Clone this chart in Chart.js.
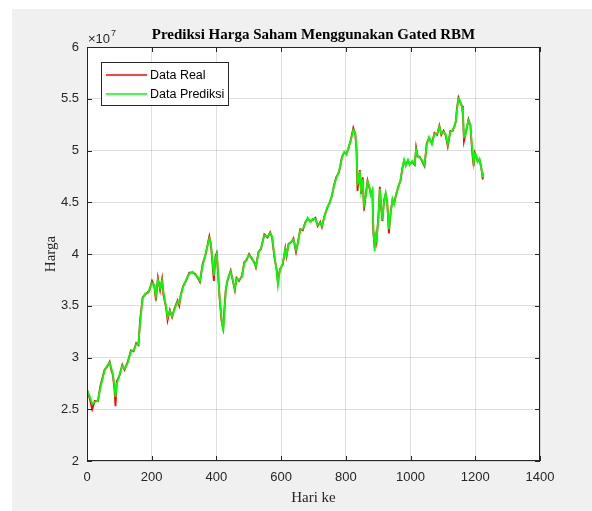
<!DOCTYPE html>
<html>
<head>
<meta charset="utf-8">
<script src="https://cdn.jsdelivr.net/npm/chart.js@4"></script>
<style>
  html, body { margin: 0; padding: 0; background: #fff; }
  #wrap { width: 592px; height: 511px; }
</style>
</head>
<body>
<div id="wrap"><canvas id="myChart" width="592" height="511"></canvas></div>
<script>
// hari ke (x) dan harga dalam satuan 10^7
var hari = [0,8,16,24,34,41,54,62,70,75,
  80,85,88,92,100,109,116,126,136,144,
  152,159,164,172,180,188,193,201,208,213,
  219,226,232,236,244,249,256,263,270,280,
  285,290,297,306,316,326,334,342,349,357,
  367,378,383,388,392,397,401,405,410,416,
  421,425,429,434,444,450,457,462,470,479,
  486,493,501,510,517,522,530,538,548,558,
  566,572,579,586,590,596,605,613,617,623,
  631,638,646,651,659,667,675,682,690,698,
  706,713,721,726,734,742,750,757,763,770,
  779,788,795,802,808,815,823,829,833,836,
  839,843,847,852,856,862,867,872,877,882,
  885,889,892,895,901,905,909,913,918,923,
  928,933,939,944,949,956,962,969,974,980,
  985,992,997,1005,1013,1017,1022,1028,1035,1043,
  1050,1057,1066,1074,1082,1089,1095,1102,1109,1115,
  1123,1130,1136,1140,1143,1148,1154,1159,1162,1165,
  1169,1174,1179,1185,1188,1192,1195,1198,1202,1207,
  1213,1217,1221,1223];

var dataReal = [2.69,2.61,2.50,2.58,2.58,2.72,2.88,2.91,2.96,2.88,
  2.83,2.69,2.53,2.77,2.82,2.93,2.88,2.96,3.07,3.06,
  3.14,3.12,3.36,3.58,3.61,3.63,3.65,3.74,3.69,3.55,
  3.77,3.65,3.76,3.61,3.49,3.36,3.46,3.39,3.47,3.55,
  3.50,3.61,3.69,3.74,3.82,3.82,3.81,3.77,3.73,3.90,
  4.00,4.17,4.09,3.90,3.74,3.98,4.01,3.81,3.56,3.35,
  3.28,3.48,3.66,3.74,3.84,3.75,3.65,3.77,3.74,3.79,
  3.92,3.94,4.00,3.95,3.92,3.87,4.02,4.05,4.19,4.16,
  4.21,4.16,3.97,3.85,3.73,3.85,3.90,4.06,3.98,4.10,
  4.11,4.15,4.02,4.10,4.24,4.23,4.31,4.34,4.32,4.33,
  4.35,4.27,4.31,4.26,4.37,4.44,4.50,4.56,4.66,4.74,
  4.79,4.94,4.98,4.97,5.02,5.10,5.22,5.16,5.00,4.61,
  4.71,4.81,4.58,4.74,4.42,4.58,4.71,4.65,4.58,4.61,
  4.20,4.06,4.20,4.13,4.39,4.65,4.45,4.32,4.52,4.58,
  4.49,4.20,4.42,4.52,4.49,4.58,4.65,4.71,4.82,4.90,
  4.86,4.90,4.87,4.89,4.86,5.03,4.94,4.94,4.90,4.85,
  5.07,5.12,5.07,5.17,5.15,5.24,5.15,5.19,5.14,5.04,
  5.19,5.19,5.24,5.28,5.40,5.51,5.46,5.43,5.33,5.09,
  5.15,5.22,5.30,5.24,5.09,4.93,4.85,4.98,4.95,4.90,
  4.91,4.86,4.78,4.72];

var dataPrediksi = [2.68,2.63,2.55,2.57,2.59,2.70,2.87,2.92,2.95,2.90,
  2.84,2.72,2.62,2.74,2.83,2.92,2.89,2.95,3.06,3.07,
  3.13,3.13,3.33,3.57,3.62,3.62,3.66,3.72,3.70,3.59,
  3.75,3.67,3.74,3.64,3.50,3.39,3.45,3.40,3.46,3.54,
  3.52,3.60,3.68,3.75,3.81,3.83,3.80,3.78,3.74,3.88,
  4.01,4.15,4.10,3.93,3.79,3.96,4.00,3.83,3.58,3.37,
  3.25,3.45,3.65,3.75,3.83,3.76,3.66,3.76,3.75,3.78,
  3.91,3.95,3.99,3.96,3.91,3.88,4.01,4.06,4.18,4.17,
  4.20,4.17,3.99,3.84,3.70,3.84,3.91,4.05,3.99,4.09,
  4.12,4.14,4.04,4.09,4.23,4.24,4.30,4.35,4.31,4.34,
  4.34,4.28,4.30,4.27,4.36,4.45,4.49,4.57,4.65,4.73,
  4.80,4.93,4.99,4.96,5.03,5.09,5.20,5.17,5.02,4.68,
  4.70,4.80,4.61,4.72,4.47,4.57,4.70,4.66,4.57,4.62,
  4.25,4.03,4.18,4.14,4.37,4.63,4.46,4.33,4.51,4.59,
  4.48,4.24,4.40,4.53,4.48,4.59,4.64,4.72,4.81,4.91,
  4.85,4.91,4.86,4.90,4.87,5.01,4.95,4.93,4.91,4.86,
  5.05,5.13,5.06,5.16,5.16,5.23,5.16,5.18,5.15,5.06,
  5.18,5.20,5.23,5.29,5.38,5.50,5.47,5.42,5.35,5.13,
  5.14,5.23,5.29,5.25,5.12,4.96,4.88,4.97,4.96,4.89,
  4.92,4.85,4.79,4.74];

var xTicks = [0, 200, 400, 600, 800, 1000, 1200, 1400];
var yTicks = [2, 2.5, 3, 3.5, 4, 4.5, 5, 5.5, 6];

function toPoints(xs, ys) {
  return xs.map(function (x, i) { return { x: x, y: ys[i] }; });
}

var axisColor = "#262626";
var tickFont = { family: "Liberation Sans", size: 13 };

// background, box, inward ticks, title, legend (matlab look)
var matlabFrame = {
  id: "matlabFrame",
  beforeDraw: function (chart) {
    var c = chart.ctx, a = chart.chartArea;
    c.save();
    c.fillStyle = "#ffffff";
    c.fillRect(0, 0, chart.width, chart.height);
    c.fillStyle = "#f0f0f0";
    c.fillRect(12, 9, chart.width - 12, chart.height - 9);
    c.fillStyle = "#ffffff";
    c.fillRect(a.left, a.top, a.right - a.left, a.bottom - a.top);
    c.restore();
  },
  afterDraw: function (chart) {
    var c = chart.ctx, a = chart.chartArea;
    var xs = chart.scales.x, ys = chart.scales.y;
    c.save();
    c.strokeStyle = axisColor;
    c.lineWidth = 1;
    c.strokeRect(Math.round(a.left) + 0.5, Math.round(a.top) + 0.5,
      Math.round(a.right - a.left) - 1, Math.round(a.bottom - a.top) - 1);
    c.beginPath();
    xTicks.forEach(function (t) {
      var px = Math.round(xs.getPixelForValue(t)) + 0.5;
      c.moveTo(px, a.bottom); c.lineTo(px, a.bottom - 5);
      c.moveTo(px, a.top); c.lineTo(px, a.top + 5);
    });
    yTicks.forEach(function (t) {
      var py = Math.round(ys.getPixelForValue(t)) + 0.5;
      c.moveTo(a.left, py); c.lineTo(a.left + 5, py);
      c.moveTo(a.right, py); c.lineTo(a.right - 5, py);
    });
    c.stroke();

    // title
    c.fillStyle = "#000";
    c.textAlign = "center";
    c.textBaseline = "alphabetic";
    c.font = "bold 15px 'Liberation Serif'";
    c.fillText("Prediksi Harga Saham Menggunakan Gated RBM", (a.left + a.right) / 2, 39);

    // exponent
    c.fillStyle = axisColor;
    c.textAlign = "left";
    c.font = "13px 'Liberation Sans'";
    c.fillText("\u00d710", 88, 43);
    var w = c.measureText("\u00d710").width;
    c.font = "9px 'Liberation Sans'";
    c.fillText("7", 88 + w + 1, 36);

    // axis titles
    c.font = "15px 'Liberation Serif'";
    c.textAlign = "center";
    c.fillText("Hari ke", (a.left + a.right) / 2, 502);
    c.save();
    c.translate(55, (a.top + a.bottom) / 2);
    c.rotate(-Math.PI / 2);
    c.fillText("Harga", 0, 0);
    c.restore();

    // legend
    c.fillStyle = "#fff";
    c.fillRect(101.5, 62.5, 127, 43);
    c.strokeStyle = axisColor;
    c.strokeRect(101.5, 62.5, 127, 43);
    var items = [["Data Real", "#ff0000", 75], ["Data Prediksi", "#00ff00", 94]];
    items.forEach(function (it) {
      c.strokeStyle = it[1];
      c.lineWidth = 1.5;
      c.beginPath();
      c.moveTo(106, it[2]); c.lineTo(147, it[2]);
      c.stroke();
      c.fillStyle = "#000";
      c.font = "12.5px 'Liberation Sans'";
      c.textAlign = "left";
      c.textBaseline = "middle";
      c.fillText(it[0], 150, it[2] + 0.5);
    });
    c.restore();
  }
};

new Chart("myChart", {
  type: "line",
  data: {
    datasets: [{
      label: "Data Real",
      data: toPoints(hari, dataReal),
      borderColor: "#ff0000",
      borderWidth: 1.8,
      pointRadius: 0,
      order: 1
    }, {
      label: "Data Prediksi",
      data: toPoints(hari, dataPrediksi),
      borderColor: "#00ff00",
      borderWidth: 1.8,
      pointRadius: 0,
      order: 0
    }]
  },
  options: {
    responsive: false,
    animation: false,
    layout: { padding: { left: 0, right: 52, top: 47, bottom: 0 } },
    plugins: {
      legend: { display: false },
      title: { display: false },
      tooltip: { enabled: false }
    },
    scales: {
      x: {
        type: "linear",
        min: 0,
        max: 1400,
        afterBuildTicks: function (s) { s.ticks = xTicks.map(function (v) { return { value: v }; }); },
        afterFit: function (s) { s.height = 50; },
        grid: { color: "rgba(38,38,38,0.15)", drawTicks: false },
        border: { display: false },
        ticks: {
          color: axisColor, font: tickFont, padding: 9, maxRotation: 0,
          callback: function (v) { return String(v); }
        }
      },
      y: {
        min: 2,
        max: 6,
        afterBuildTicks: function (s) { s.ticks = yTicks.map(function (v) { return { value: v }; }); },
        afterFit: function (s) { s.width = 87; },
        grid: { color: "rgba(38,38,38,0.15)", drawTicks: false },
        border: { display: false },
        ticks: {
          color: axisColor, font: tickFont, padding: 8,
          callback: function (v) { return String(v); }
        }
      }
    }
  },
  plugins: [matlabFrame]
});
</script>
</body>
</html>
